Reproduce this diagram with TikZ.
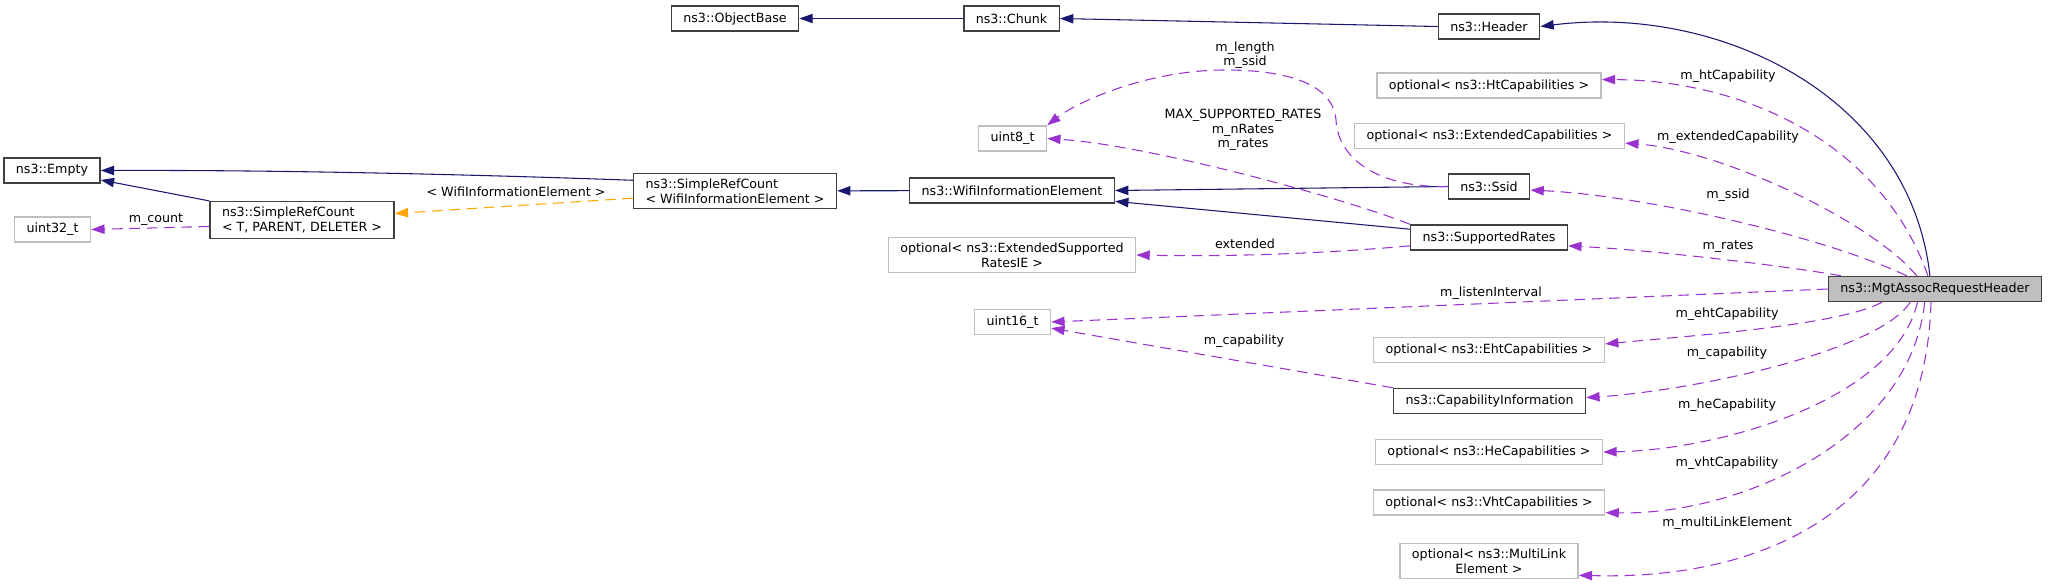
\documentclass[tikz,border=0pt]{standalone}
\usepackage{fontspec}
\setmainfont{DejaVu Sans}
\usepackage{tikz}
\usetikzlibrary{arrows.meta}
\definecolor{inhblue}{HTML}{191970}
\definecolor{usepurple}{HTML}{9A32CD}
\definecolor{tplorange}{HTML}{FFA500}
\definecolor{boxgray}{HTML}{404040}
\definecolor{extgray}{HTML}{BFBFBF}
\tikzset{
	cls/.style={draw=boxgray, line width=1.1pt, fill=white, align=center, minimum height=18.75pt, inner xsep=9pt, inner ysep=4pt, font=\fontsize{9.5}{11.25}\selectfont},
	extcls/.style={cls, draw=extgray},
	maincls/.style={cls, fill=extgray},
	inherit/.style={color=inhblue, line width=0.8pt, -{Triangle[length=10pt,width=7pt]}},
	usage/.style={color=usepurple, line width=0.8pt, dash pattern=on 8pt off 5pt, -{Triangle[length=10pt,width=7pt]}},
	templ/.style={usage, color=tplorange},
	lbl/.style={inner sep=0pt, align=center, font=\fontsize{9.5}{10.75}\selectfont}
}
\begin{document}
\begin{tikzpicture}[x=0.75pt,y=-0.75pt]
		\useasboundingbox (0,0) rectangle (2048,587);
		% Left side
		\node [cls] at (52,170.5) (empty) {ns3::Empty};
		\node [extcls] at (52.5,229.5) (uint32) {uint32\_t};
		\node [cls, align=left] at (302,220) (srcTPD) {ns3::SimpleRefCount\\< T, PARENT, DELETER >};
		\node [cls, align=left] at (735,191) (srcWie) {ns3::SimpleRefCount\\< WifiInformationElement >};
		\node [cls] at (735,18.5) (objbase) {ns3::ObjectBase};
		% Middle column
		\node [cls] at (1011.5,18.5) (chunk) {ns3::Chunk};
		\node [extcls] at (1012.5,138.5) (uint8) {uint8\_t};
		\node [cls] at (1012,190.5) (wie) {ns3::WifiInformationElement};
		\node [extcls] at (1012,255) (extrates) {optional< ns3::ExtendedSupported\\RatesIE >};
		\node [extcls] at (1012.5,322) (uint16) {uint16\_t};
		% Right column
		\node [cls] at (1489,26.5) (header) {ns3::Header};
		\node [extcls] at (1489,85.5) (htcap) {optional< ns3::HtCapabilities >};
		\node [extcls] at (1489.5,136) (extcap) {optional< ns3::ExtendedCapabilities >};
		\node [cls] at (1489,186.5) (ssid) {ns3::Ssid};
		\node [cls] at (1489,237.5) (rates) {ns3::SupportedRates};
		\node [extcls] at (1489,350) (ehtcap) {optional< ns3::EhtCapabilities >};
		\node [cls] at (1489.5,401) (capinfo) {ns3::CapabilityInformation};
		\node [extcls] at (1489,452) (hecap) {optional< ns3::HeCapabilities >};
		\node [extcls] at (1489,502.5) (vhtcap) {optional< ns3::VhtCapabilities >};
		\node [extcls] at (1489,561) (multilink) {optional< ns3::MultiLink\\Element >};
		\node [maincls] at (1935,289) (assocreq) {ns3::MgtAssocRequestHeader};
		
		% Inheritance
		\draw [inherit] (chunk) -- (objbase); \draw [inherit] (header.west) -- (chunk.east);
		\draw [inherit] (assocreq.111) .. controls (1910,96) and (1719,4) .. (header.east);
		\draw [inherit] (srcWie.174) .. controls (431,173) and (250,170) .. (empty.east); \draw [inherit] (srcTPD.north west) -- (empty.349);
		\draw [inherit] (wie) -- (srcWie); \draw [inherit] (ssid.west) -- (wie.east); \draw [inherit] (rates.174) -- (wie.354);
		\draw [templ] (srcWie.184) -- (srcTPD.4);
		
		% Members
		\draw [usage] (srcTPD.184) -- (uint32.east);
		\draw [usage] (ssid.west) .. controls (1380,188) and (1338,160) .. (1336,120) .. controls (1333,85) and (1290,70) .. (1225,70) .. controls (1150,70) and (1080,100) .. (uint8.north east);
		\draw [usage] (rates.north west) .. controls (1350,200) and (1150,145) .. (uint8.east);
		\draw [usage] (rates.186) .. controls (1330,253) and (1236,257) .. (extrates.east);
		\draw [usage] (assocreq.west) -- (uint16.east); \draw [usage] (capinfo.north west) -- (uint16.351);
		\draw [usage] (assocreq.118) .. controls (1880,140) and (1740,80) .. (htcap.3);
		\draw [usage] (assocreq.144) .. controls (1870,220) and (1720,150) .. (extcap.357);
		\draw [usage] (assocreq.155) .. controls (1820,235) and (1640,195) .. (ssid.355);
		\draw [usage] (assocreq.172) .. controls (1780,265) and (1650,250) .. (rates.354);
		\draw [usage] (assocreq.194) .. controls (1840,325) and (1700,335) .. (ehtcap.3);
		\draw [usage] (assocreq.208) .. controls (1880,350) and (1700,390) .. (capinfo.2);
		\draw [usage] (assocreq.217) .. controls (1895,400) and (1720,450) .. (hecap.east);
		\draw [usage] (assocreq.232) .. controls (1910,440) and (1740,515) .. (vhtcap.355);
		\draw [usage] (assocreq.253) .. controls (1925,520) and (1750,580) .. (multilink.351);
		
		% Edge labels
		\node [lbl] at (156,220) (lcount) {m\_count};
		\node [lbl] at (516,192) (ltempl) {< WifiInformationElement >};
		\node [lbl] at (1245,55) (lssid8) {m\_length\\m\_ssid};
		\node [lbl] at (1243,130) (lrates8) {MAX\_SUPPORTED\_RATES\\m\_nRates\\m\_rates};
		\node [lbl] at (1245,244) (lext) {extended};
		\node [lbl] at (1728,76) (lht) {m\_htCapability};
		\node [lbl] at (1728,137) (lextcap) {m\_extendedCapability};
		\node [lbl] at (1728,195) (lssid) {m\_ssid};
		\node [lbl] at (1728,247) (lrates) {m\_rates};
		\node [lbl] at (1491,293) (llisten) {m\_listenInterval};
		\node [lbl] at (1244,341) (lcapleft) {m\_capability};
		\node [lbl] at (1727,314) (leht) {m\_ehtCapability};
		\node [lbl] at (1727,353) (lcap) {m\_capability};
		\node [lbl] at (1727,405) (lhe) {m\_heCapability};
		\node [lbl] at (1727,463) (lvht) {m\_vhtCapability};
		\node [lbl] at (1727,523) (lmulti) {m\_multiLinkElement};
		
\end{tikzpicture}
\end{document}
